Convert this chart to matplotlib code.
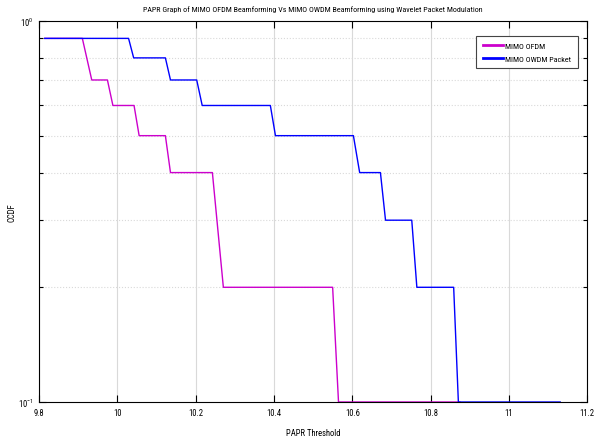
import matplotlib
matplotlib.use('Agg')
import matplotlib.pyplot as plt
from matplotlib import font_manager
from matplotlib.ticker import LogLocator, NullFormatter, FixedLocator

# pick a narrow sans if one is installed
installed = {f.name for f in font_manager.fontManager.ttflist}
narrow = [n for n in ['Liberation Sans Narrow', 'DejaVu Sans Condensed', 'Roboto Condensed',
                      'Open Sans Condensed'] if n in installed]
fam = narrow[0] if narrow else 'Liberation Sans'
plt.rcParams['font.family'] = [fam, 'DejaVu Sans']
plt.rcParams['mathtext.fontset'] = 'custom'
plt.rcParams['mathtext.rm'] = fam
fs = 5.8 if narrow else 5.0

# MIMO OFDM
ofdm_x = [9.815, 9.911, 9.935, 9.975, 9.989, 10.043, 10.056, 10.123, 10.136,
          10.243, 10.271, 10.550, 10.565, 10.875]
ofdm_y = [0.9, 0.9, 0.7, 0.7, 0.6, 0.6, 0.5, 0.5, 0.4,
          0.4, 0.2, 0.2, 0.1, 0.1]

# MIMO OWDM Packet
owdm_x = [9.815, 10.029, 10.042, 10.123, 10.136, 10.203, 10.217, 10.391, 10.404,
          10.603, 10.619, 10.672, 10.685, 10.752, 10.765, 10.859, 10.871, 11.131]
owdm_y = [0.9, 0.9, 0.8, 0.8, 0.7, 0.7, 0.6, 0.6, 0.5,
          0.5, 0.4, 0.4, 0.3, 0.3, 0.2, 0.2, 0.1, 0.1]

xticks = [9.8, 10, 10.2, 10.4, 10.6, 10.8, 11, 11.2]
xtick_labels = ['9.8', '10', '10.2', '10.4', '10.6', '10.8', '11', '11.2']

fig = plt.figure(figsize=(5.98, 4.39), dpi=100)
ax = fig.add_axes([0.065, 0.082, 0.917, 0.868])

ax.plot(ofdm_x, ofdm_y, color='#cc00cc', lw=1.0, label='MIMO OFDM')
ax.plot(owdm_x, owdm_y, color='#0000ff', lw=1.0, label='MIMO OWDM Packet')

ax.set_yscale('log')
ax.set_xlim(9.8, 11.2)
ax.set_ylim(0.1, 1)
ax.set_xticks(xticks)
ax.set_xticklabels(xtick_labels)
ax.yaxis.set_major_locator(FixedLocator([0.1, 1]))
ax.set_yticklabels([r'$10^{-1}$', r'$10^{0}$'])
ax.yaxis.set_minor_locator(LogLocator(base=10, subs=[0.2, 0.3, 0.4, 0.5, 0.6, 0.7, 0.8, 0.9]))
ax.yaxis.set_minor_formatter(NullFormatter())

ax.tick_params(which='both', direction='in', top=True, right=True, labelsize=fs + 0.4)
ax.tick_params(which='major', length=5, width=0.8, pad=4)
ax.tick_params(which='minor', length=3, width=0.8)

ax.grid(True, axis='x', which='major', color='#d9d9d9', lw=0.8)
ax.grid(True, axis='y', which='minor', color='#d9d9d9', lw=0.8, ls=':')
ax.set_axisbelow(True)
for s in ax.spines.values():
    s.set_linewidth(0.8)

ax.set_title('PAPR Graph of MIMO OFDM Beamforming Vs MIMO OWDM Beamforming using Wavelet Packet Modulation',
             fontsize=fs, pad=7)
ax.set_xlabel('PAPR Threshold', fontsize=fs + 0.4, labelpad=8)
ax.set_ylabel('CCDF', fontsize=fs + 0.4)
ax.yaxis.set_label_coords(-0.04, 0.5)

leg = ax.legend(loc='upper right', fontsize=fs, fancybox=False, framealpha=1,
                edgecolor='#444444', bbox_to_anchor=(0.99, 0.972), handlelength=2.5,
                handletextpad=0.3, borderpad=0.8, labelspacing=0.8)
leg.get_frame().set_linewidth(0.8)
for line in leg.get_lines():
    line.set_linewidth(2.0)

fig.savefig('out.png', dpi=100)
